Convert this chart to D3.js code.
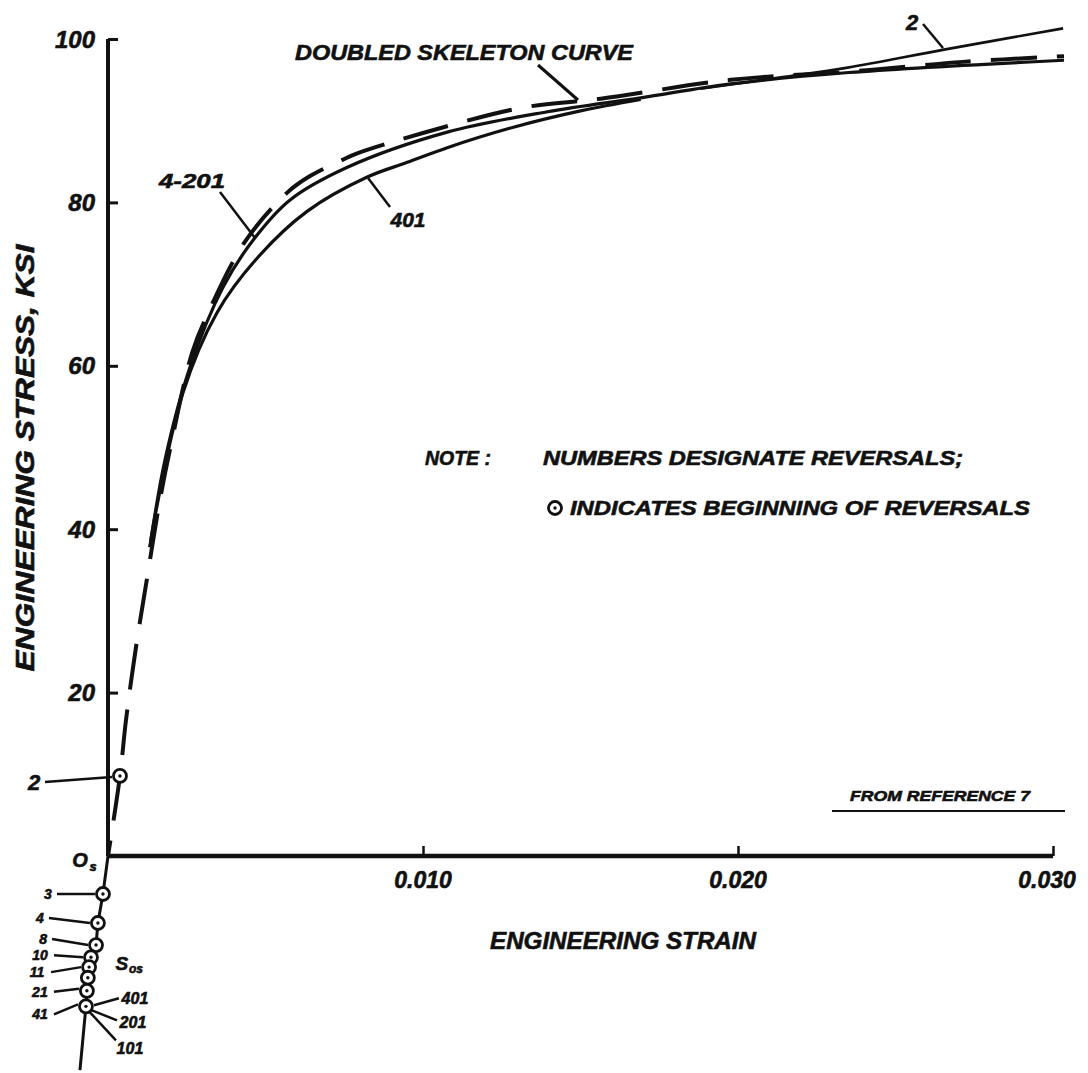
<!DOCTYPE html>
<html>
<head>
<meta charset="utf-8">
<script src="https://cdn.jsdelivr.net/npm/d3@7"></script>
<style>
  html, body { margin: 0; padding: 0; background: #fff; }
  svg text { font-family: "Liberation Sans", Arial, sans-serif; font-weight: bold; font-style: italic; fill: #111; stroke: #111; stroke-width: 0.6px; }
</style>
</head>
<body>
<svg id="chart" width="1088" height="1073"></svg>
<script>
// ----- data (strain, stress in ksi) -----
const strainTicks = [0.010, 0.020, 0.030];
const strainTickLabels = ["0.010", "0.020", "0.030"];
const stressTicks = [20, 40, 60, 80, 100];
const stressTickLabels = ["20", "40", "60", "80", "100"];

// doubled skeleton curve (dashed)
const skeletonStrain = [0, 0.00038, 0.00057, 0.00089, 0.00124, 0.00165, 0.00203, 0.00267, 0.00318, 0.00435, 0.00569, 0.00636, 0.00744, 0.00791, 0.01065, 0.01316, 0.01564, 0.01977, 0.02352, 0.02714, 0.03035];
const skeletonStress = [0, 9.8, 16.6, 25.6, 34.0, 43.6, 50.9, 61.6, 66.5, 75.2, 81.2, 83.1, 85.2, 86.0, 89.2, 91.6, 92.7, 95.0, 96.0, 97.2, 97.9];

// reversals 4-201
const rev4Strain = [0.00133, 0.00181, 0.00261, 0.00365, 0.00461, 0.00578, 0.00760, 0.01077, 0.01395, 0.01691, 0.01977, 0.02352, 0.03035];
const rev4Stress = [37.8, 48.5, 59.9, 69.6, 75.4, 80.3, 84.3, 88.6, 91.1, 92.8, 94.5, 95.9, 97.4];

// reversal 401
const rev401Strain = [0.00133, 0.00143, 0.00238, 0.00346, 0.00474, 0.00632, 0.00823, 0.00950, 0.01077, 0.01287, 0.01500, 0.01691];
const rev401Stress = [37.8, 40.3, 56.7, 66.5, 73.2, 78.9, 83.1, 84.9, 86.7, 89.2, 91.2, 92.6];

// reversal 2
const rev2Strain = [0.01881, 0.02136, 0.02348, 0.02654, 0.03032];
const rev2Stress = [93.9, 95.3, 96.5, 98.7, 101.3];

// beginning of reversal 2
const start2Strain = 0.00038;
const start2Stress = 9.8;

// beginnings of the other reversals (below O_s)
const startLabels = ["3", "4", "8", "10", "11", "", "21", "41"];
const startStrain = [-0.00016, -0.00032, -0.00038, -0.00054, -0.00060, -0.00064, -0.00067, -0.00070];
const startStress = [-4.65, -8.2, -10.9, -12.4, -13.6, -14.9, -16.5, -18.4];
const startTailStrain = -0.00089;
const startTailStress = -26.2;

// ----- scales -----
const svg = d3.select("#chart");
const x = d3.scaleLinear().domain([0, 0.030]).range([108, 1053]);
const y = d3.scaleLinear().domain([0, 100]).range([856, 39]);

const ink = "#111";
const line = d3.line().x(d => x(d[0])).y(d => y(d[1])).curve(d3.curveCatmullRom.alpha(0.5));
const zip = (a, b) => a.map((v, i) => [v, b[i]]);

// ----- axes -----
const yAxis = svg.append("g").attr("transform", `translate(${x(0)},0)`)
    .call(d3.axisRight(y).tickValues(stressTicks).tickSize(10).tickFormat(""));
yAxis.select(".domain").remove();
yAxis.selectAll(".tick line").attr("stroke", ink).attr("stroke-width", 3);
svg.append("line")
    .attr("x1", x(0)).attr("x2", x(0)).attr("y1", y(100)).attr("y2", y(0))
    .attr("stroke", ink).attr("stroke-width", 4);
svg.append("g").selectAll("text").data(stressTicks).enter().append("text")
    .attr("x", x(0) - 13).attr("y", d => y(d)).attr("dy", "0.36em")
    .attr("text-anchor", "end").style("font-size", "24px")
    .text((d, i) => stressTickLabels[i]);

const xAxis = svg.append("g").attr("transform", `translate(0,${y(0)})`)
    .call(d3.axisTop(x).tickValues(strainTicks).tickSize(10).tickFormat(""));
xAxis.select(".domain").remove();
xAxis.selectAll(".tick line").attr("stroke", ink).attr("stroke-width", 2.5);
svg.append("line")
    .attr("x1", x(0)).attr("x2", x(0.030)).attr("y1", y(0)).attr("y2", y(0))
    .attr("stroke", ink).attr("stroke-width", 4.5);
svg.append("g").selectAll("text").data(strainTicks).enter().append("text")
    .attr("x", (d, i) => x(d) - (i === 2 ? 6 : 0)).attr("y", y(0) + 32)
    .attr("text-anchor", "middle").style("font-size", "23px")
    .text((d, i) => strainTickLabels[i]);

svg.append("text")
    .attr("x", 623).attr("y", 949).attr("text-anchor", "middle")
    .attr("textLength", 266).attr("lengthAdjust", "spacingAndGlyphs")
    .style("font-size", "24px").text("ENGINEERING STRAIN");
svg.append("text")
    .attr("transform", "translate(34,458) rotate(-90)").attr("text-anchor", "middle")
    .attr("textLength", 427).attr("lengthAdjust", "spacingAndGlyphs")
    .style("font-size", "25px").text("ENGINEERING  STRESS,  KSI");

// ----- curves -----
svg.append("path").attr("d", line(zip(rev401Strain, rev401Stress)))
    .attr("fill", "none").attr("stroke", ink).attr("stroke-width", 3.2);
svg.append("path").attr("d", line(zip(rev4Strain, rev4Stress)))
    .attr("fill", "none").attr("stroke", ink).attr("stroke-width", 3.2);
svg.append("path").attr("d", line(zip(rev2Strain, rev2Stress)))
    .attr("fill", "none").attr("stroke", ink).attr("stroke-width", 2.6);
svg.append("path").attr("d", line(zip(skeletonStrain, skeletonStress)))
    .attr("fill", "none").attr("stroke", ink).attr("stroke-width", 4)
    .attr("stroke-dasharray", "46,20").attr("stroke-dashoffset", -36);

// chain of reversal beginnings below O_s
const chain = [[0, 0]].concat(zip(startStrain, startStress), [[startTailStrain, startTailStress]]);
svg.append("path")
    .attr("d", d3.line().x(d => x(d[0])).y(d => y(d[1]))(chain))
    .attr("fill", "none").attr("stroke", ink).attr("stroke-width", 3);

const markers = zip(startStrain, startStress).concat([[start2Strain, start2Stress]]);
const mk = svg.append("g").selectAll("g").data(markers).enter().append("g")
    .attr("transform", d => `translate(${x(d[0])},${y(d[1])})`);
mk.append("circle").attr("r", 6.5).attr("fill", "#fff").attr("stroke", ink).attr("stroke-width", 2.8);
mk.append("circle").attr("r", 1.7).attr("fill", ink);

// ----- annotations -----
function leader(x1, y1, x2, y2, w) {
    svg.append("line").attr("x1", x1).attr("y1", y1).attr("x2", x2).attr("y2", y2)
        .attr("stroke", ink).attr("stroke-width", w || 2.5);
}
function label(tx, ty, s, size, anchor) {
    return svg.append("text").attr("x", tx).attr("y", ty).attr("dy", "0.36em")
        .attr("text-anchor", anchor || "middle").style("font-size", size + "px").text(s);
}

label(295, 52, "DOUBLED  SKELETON  CURVE", 22, "start").attr("textLength", 338).attr("lengthAdjust", "spacingAndGlyphs");
leader(538, 65, 578, 100, 3);
label(912, 22, "2", 22);
leader(923, 24, 943, 48, 2.5);
label(192, 180, "4-201", 21).attr("textLength", 66).attr("lengthAdjust", "spacingAndGlyphs");
leader(220, 192, 255, 238, 2.5);
label(408, 219, "401", 21);
leader(368, 178, 390, 207, 2.5);

// reversal 2 tag
label(34, 782, "2", 22);
leader(45, 782, x(start2Strain) - 8, y(start2Stress) + 1, 2.5);

// O_s
label(80, 860, "O", 20);
label(93, 866, "s", 13);

// tags of reversal beginnings
const startLabelOffsets = [[-55, 0], [-58, -5], [-53, -6], [-51, -2], [-52, 5], [0, 0], [-47, 1], [-46, 8]];
startLabels.forEach((s, i) => {
    if (!s) return;
    const px = x(startStrain[i]), py = y(startStress[i]);
    const [dx, dy] = startLabelOffsets[i];
    label(px + dx, py + dy, s, 14, "middle");
    leader(px + dx + 9 + (s.length - 1) * 5, py + dy, px - 8, py + (i > 5 ? -2 : 0), 2.5);
});
// tags on the right of the last marker
const lastX = x(startStrain[7]), lastY = y(startStress[7]);
label(lastX + 49, lastY - 8, "401", 16);
leader(lastX + 8, lastY - 1, lastX + 33, lastY - 8, 2.5);
label(lastX + 47, lastY + 16, "201", 16);
leader(lastX + 6, lastY + 4, lastX + 31, lastY + 14, 2.5);
label(lastX + 44, lastY + 42, "101", 16);
leader(lastX + 4, lastY + 6, lastX + 30, lastY + 34, 2.5);
label(lastX + 36, lastY - 43, "S", 19);
label(lastX + 50, lastY - 38, "os", 12);

// note
label(425, 458, "NOTE :", 20, "start").attr("textLength", 66).attr("lengthAdjust", "spacingAndGlyphs");
label(543, 458, "NUMBERS  DESIGNATE  REVERSALS;", 20, "start").attr("textLength", 420).attr("lengthAdjust", "spacingAndGlyphs");
const noteMk = svg.append("g").attr("transform", "translate(555,508)");
noteMk.append("circle").attr("r", 6.5).attr("fill", "#fff").attr("stroke", ink).attr("stroke-width", 2.8);
noteMk.append("circle").attr("r", 1.7).attr("fill", ink);
label(570, 508, "INDICATES  BEGINNING  OF  REVERSALS", 20, "start").attr("textLength", 460).attr("lengthAdjust", "spacingAndGlyphs");

label(850, 796, "FROM  REFERENCE  7", 15, "start").attr("textLength", 180).attr("lengthAdjust", "spacingAndGlyphs");
leader(832, 811, 1065, 811, 2.2);
</script>
</body>
</html>
